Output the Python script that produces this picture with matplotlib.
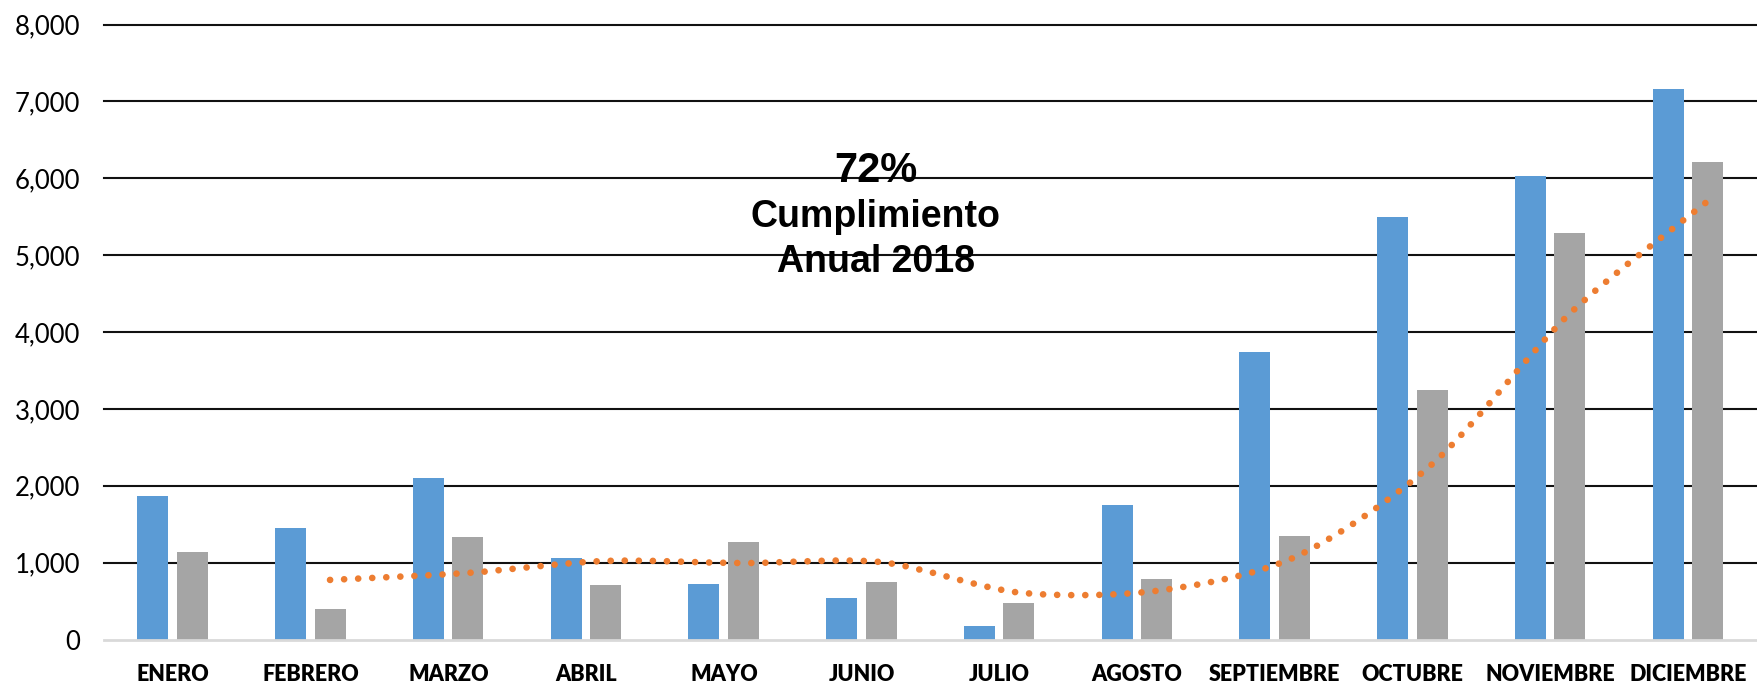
import numpy as np
import matplotlib
matplotlib.use('Agg')
import matplotlib.pyplot as plt
from matplotlib.path import Path
from matplotlib.patches import PathPatch

meses = ['ENERO', 'FEBRERO', 'MARZO', 'ABRIL', 'MAYO', 'JUNIO', 'JULIO',
         'AGOSTO', 'SEPTIEMBRE', 'OCTUBRE', 'NOVIEMBRE', 'DICIEMBRE']
programado = [1866, 1447, 2096, 1057, 719, 542, 174, 1745, 3736, 5498, 6035, 7160]
ejecutado = [1143, 403, 1330, 714, 1269, 745, 477, 788, 1351, 3242, 5291, 6213]
# media movil (2 periodos) sobre la serie gris
tendencia = [None, 775, 866, 1022, 994, 1007, 611, 633, 1068, 2280, 4240, 5700]
y_ticks = [0, 1000, 2000, 3000, 4000, 5000, 6000, 7000, 8000]

azul = '#5B9BD5'
gris = '#A5A5A5'
naranja = '#ED7D31'

fig = plt.figure(figsize=(17.57, 6.83), dpi=100)
ax = fig.add_axes([104 / 1757, 43.5 / 683, 1 - 104 / 1757, 615 / 683])

x = np.arange(len(meses))
ancho = 0.225
ax.bar(x - 0.145, programado, width=ancho, color=azul, zorder=3)
ax.bar(x + 0.141, ejecutado, width=ancho, color=gris, zorder=3)

# linea de tendencia suavizada (bezier tipo catmull-rom) en la posicion de la barra gris
pts = [(xi + 0.141, v) for xi, v in zip(x, tendencia) if v is not None]
pts = np.array(pts, dtype=float)
verts = [pts[0]]
codes = [Path.MOVETO]
n = len(pts)
for i in range(n - 1):
    p0 = pts[max(i - 1, 0)]
    p1 = pts[i]
    p2 = pts[i + 1]
    p3 = pts[min(i + 2, n - 1)]
    c1 = p1 + (p2 - p0) / 7
    c2 = p2 - (p3 - p1) / 7
    verts += [c1, c2, p2]
    codes += [Path.CURVE4] * 3
patch = PathPatch(Path(verts, codes), fill=False, edgecolor=naranja,
                  linewidth=4.8, linestyle=(0, (0.01, 2.1)), capstyle='round', zorder=4)
ax.add_patch(patch)

ax.set_xlim(-0.5, len(meses) - 0.5)
ax.set_ylim(0, 8000)
ax.set_yticks(y_ticks)
ax.set_yticklabels([f'{t:,}' for t in y_ticks], fontsize=18.5, family='Lato')
ax.set_xticks(x)
ax.set_xticklabels(meses, fontsize=15.5, family='Lato', fontweight='heavy')
ax.tick_params(axis='both', length=0)
ax.tick_params(axis='y', pad=17)
ax.tick_params(axis='x', pad=17.5)

for s in ['top', 'right', 'left']:
    ax.spines[s].set_visible(False)
ax.spines['bottom'].set_color('#D9D9D9')
ax.spines['bottom'].set_linewidth(2)
ax.spines['bottom'].set_zorder(5)

for t in y_ticks[1:]:
    ax.axhline(t, color='#111111', linewidth=1.5, zorder=1, clip_on=False)

fig.text(876 / 1757, 1 - 182 / 683, '72%', ha='center', va='baseline',
         fontsize=30, fontweight='bold', family='Liberation Sans')
fig.text(876 / 1757, 1 - 227 / 683, 'Cumplimiento', ha='center', va='baseline',
         fontsize=27, fontweight='bold', family='Liberation Sans')
fig.text(876 / 1757, 1 - 272 / 683, 'Anual 2018', ha='center', va='baseline',
         fontsize=27, fontweight='bold', family='Liberation Sans')

plt.savefig('out.png', dpi=100)
